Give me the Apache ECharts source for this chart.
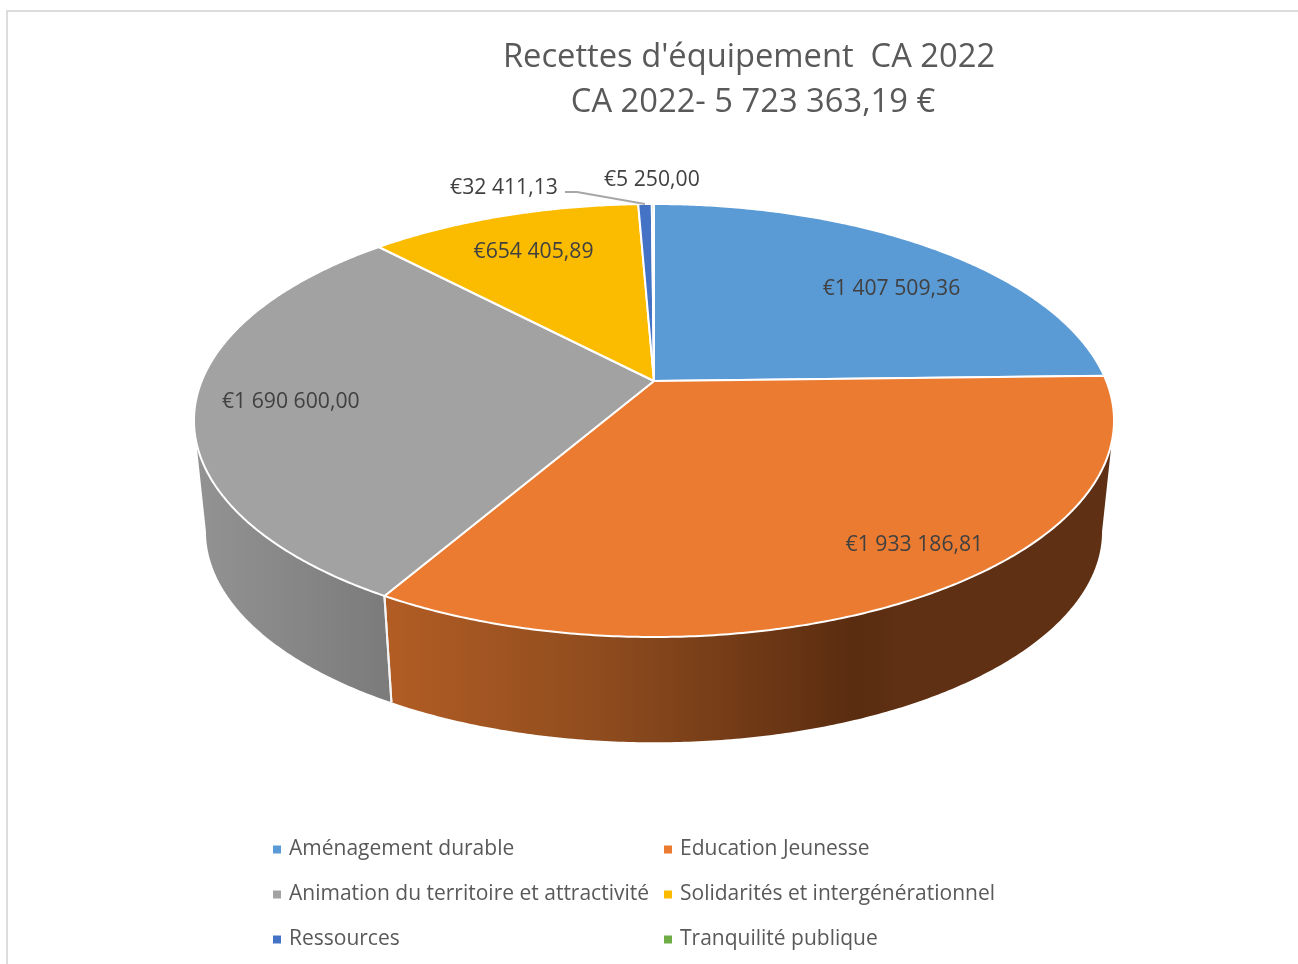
<!DOCTYPE html>
<html><head><meta charset="utf-8">
<style>html,body{margin:0;padding:0;background:#fff}#c{width:1298px;height:964px}</style>
<script src="https://cdn.jsdelivr.net/npm/echarts@6/dist/echarts.min.js"></script>
</head><body><div id="c"></div>
<script>
const categories = ['Aménagement durable','Education Jeunesse','Animation du territoire et attractivité','Solidarités et intergénérationnel','Ressources','Tranquilité publique'];
const values = [1407509.36,1933186.81,1690600.00,654405.89,32411.13,5250.00];
const valueLabels = ['€1 407 509,36','€1 933 186,81','€1 690 600,00','€654 405,89','€32 411,13','€5 250,00'];
const colors = ['#5b9bd5','#eb7b31','#a2a2a2','#fbbc00','#4472c4','#70ad47'];
const titleLines = ["Recettes d'équipement  CA 2022","CA 2022- 5 723 363,19 €"];

// Layout (separate from data)
const FONT = '"Open Sans"';
const HUB = {x:654,y:381}, A = 452.3, B = 209.3, K = 0.1824;
const BASE = {y:493, s:0.974};
const labelR = [0.7,0.7,0.7,0.7,1,1];
const labelShift = [[35,4.5],[79,22.5],[-44,3.5],[-10,-8.5],[-141,-16.5],[-1,-24.5]];
const leaderFrom = [null,null,null,null,[[61,4.5],[73,4.5]],null];
const wallRange = [100.5,259.5];
const wallStops = {
  1:{from:385,to:1100,stops:[[0,'#b25d24'],[0.3,'#8f4c1e'],[0.66,'#5a2c10'],[0.72,'#5f3013'],[1,'#5f3013']]},
  2:{from:200,to:390,stops:[[0,'#929292'],[1,'#7b7b7b']]}
};

const total = values.reduce((a,b)=>a+b,0);
const starts = []; values.reduce((acc,v,i)=>{starts[i]=acc;return acc+v;},0);
const rad = d=>d*Math.PI/180;
function project(deg,r,base){
  const X=r*Math.sin(rad(deg)), Y=r*Math.cos(rad(deg)), w=1+K*Y;
  const s=base?BASE.s:1, y0=base?BASE.y:HUB.y;
  return [HUB.x+s*A*X/w, y0-s*B*Y/w];
}
function arc(a0,a1,base){
  const n=Math.max(2,Math.ceil(Math.abs(a1-a0)*2)), p=[];
  for(let i=0;i<=n;i++) p.push(project(a0+(a1-a0)*i/n,1,base));
  return p;
}
function renderItem(idx){
  return function(params,api){
    const v=api.value(0);
    const a0=starts[idx]/total*360, a1=a0+v/total*360;
    const children=[];
    const lo=Math.max(a0,wallRange[0]), hi=Math.min(a1,wallRange[1]);
    if(hi>lo){
      const pts=arc(lo,hi,false).concat(arc(hi,lo,true));
      const g=wallStops[idx];
      children.push({type:'polygon',z2:1,shape:{points:pts},style:{
        fill:new echarts.graphic.LinearGradient(g.from,0,g.to,0,g.stops.map(s=>({offset:s[0],color:s[1]})),true)}});
      [a0,a1].forEach(e=>{
        if(e>wallRange[0]&&e<wallRange[1]){
          children.push({type:'polyline',z2:2,shape:{points:[project(e,1,false),project(e,1,true)]},
            style:{fill:null,stroke:'#f4f4f4',lineWidth:2}});
        }
      });
    }
    const top=[[HUB.x,HUB.y]].concat(arc(a0,a1,false));
    children.push({type:'polygon',z2:3,shape:{points:top},style:{fill:colors[idx],stroke:'#fff',lineWidth:2,lineJoin:'round'}});
    const mid=(a0+a1)/2, p=project(mid,labelR[idx],false);
    const lx=p[0]+labelShift[idx][0], ly=p[1]+labelShift[idx][1];
    if(leaderFrom[idx]){
      const pts=leaderFrom[idx].map(o=>[lx+o[0],ly+o[1]]).concat([project(mid,1,false)]);
      children.push({type:'polyline',z2:5,shape:{points:pts},style:{fill:null,stroke:'#a6a6a6',lineWidth:2}});
    }
    children.push({type:'text',z2:6,style:{x:lx,y:ly,text:valueLabels[idx],fill:'#404040',
      font:'21.2px '+FONT,textAlign:'center',textVerticalAlign:'middle'}});
    return {type:'group',children};
  };
}
const legendBase={orient:'vertical',icon:'rect',itemWidth:8,itemHeight:8,itemGap:18,selectedMode:false,top:831,
  textStyle:{color:'#595959',fontFamily:FONT,fontSize:21,lineHeight:27,padding:[0,0,0,3]}};
const chart=echarts.init(document.getElementById('c'),null,{renderer:'canvas'});
chart.setOption({
  animation:false,
  backgroundColor:'#fff',
  title:[
    {text:titleLines[0],left:744,top:36,textAlign:'center',textStyle:{color:'#595959',fontFamily:FONT,fontSize:32.7,fontWeight:'normal'}},
    {text:titleLines[1],left:748,top:81,textAlign:'center',textStyle:{color:'#595959',fontFamily:FONT,fontSize:32.7,fontWeight:'normal'}}
  ],
  graphic:[{type:'rect',silent:true,shape:{x:7,y:11,width:1400,height:1100},style:{fill:null,stroke:'#dcdcdc',lineWidth:2},z:-1}],
  legend:[
    Object.assign({},legendBase,{left:268,data:[categories[0],categories[2],categories[4]]}),
    Object.assign({},legendBase,{left:659,data:[categories[1],categories[3],categories[5]]})
  ],
  series:categories.map((name,i)=>({
    type:'custom',name,coordinateSystem:'none',silent:true,clip:false,
    itemStyle:{color:colors[i]},
    renderItem:renderItem(i),
    data:[values[i]]
  }))
});
</script></body></html>
